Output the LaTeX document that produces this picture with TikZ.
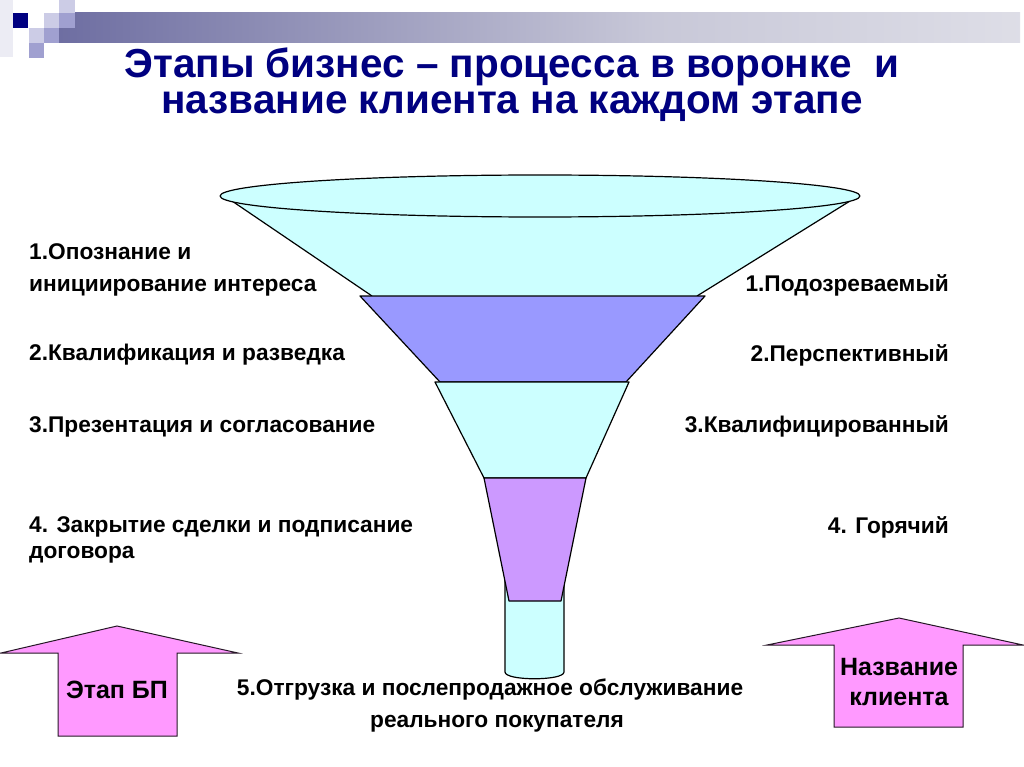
\documentclass[tikz,border=0pt]{standalone}
\usepackage{fontspec}
\setmainfont{Liberation Sans}
\lineskiplimit=-50pt
\definecolor{titleblue}{HTML}{000080}
\definecolor{cyanfill}{HTML}{CCFFFF}
\definecolor{bluefill}{HTML}{9999FF}
\definecolor{violetfill}{HTML}{CC99FF}
\definecolor{pinkfill}{HTML}{FF99FF}
\definecolor{bar0}{RGB}{20,20,120}
\definecolor{bar1}{RGB}{107,107,160}
\definecolor{bar2}{RGB}{200,200,216}
\definecolor{bar3}{RGB}{250,250,250}
\definecolor{sqdark}{HTML}{000080}
\definecolor{sqlight}{HTML}{CCCCE6}
\definecolor{sqmid}{HTML}{A0A0D0}
\definecolor{sqfaint}{HTML}{ECECF4}
\pgfdeclarehorizontalshading{barshade}{100bp}{color(0bp)=(bar0); color(24bp)=(bar1); color(56bp)=(bar2); color(100bp)=(bar3)}
\begin{document}
\begin{tikzpicture}[x=1pt,y=-1pt,
  lbl/.style={inner sep=0pt, font=\fontsize{22.7}{26}\selectfont\bfseries},
  arrlbl/.style={inner sep=0pt, font=\fontsize{25}{30}\selectfont\bfseries},
  ttl/.style={inner sep=0pt, text=titleblue, align=center, font=\fontsize{40.5}{36}\selectfont\bfseries},
  part/.style={draw=black, line width=1.2pt, line join=round},
  arrowbox/.style={fill=pinkfill, draw=black!85!pinkfill, line width=1pt, line join=miter}]
\useasboundingbox[fill=white] (0,0) rectangle (1024,767);
% header decoration
\shade[shading=barshade] (59,13) rectangle (1020,43);
\fill[sqfaint] (0,0) rectangle (13,57);
\fill[sqdark] (13,13) rectangle (28,28);
\fill[sqlight] (44,13) rectangle (59,28);
\fill[sqmid] (59,13) rectangle (75,28);
\fill[sqlight] (59,0) rectangle (75,13);
\fill[sqlight] (29,28) rectangle (44,43);
\fill[sqmid] (44,28) rectangle (59,43);
\fill[sqmid] (29,43) rectangle (44,58);
% title
\node[ttl, anchor=north] (title) at (512,48) {Этапы бизнес – процесса в воронке~~и\\название клиента на каждом этапе};
% funnel
\fill[cyanfill] (232,201) -- (372,296) -- (697,296) -- (850,201) -- cycle;
\draw[part] (232,201) -- (372,296);
\draw[part] (850,201) -- (697,296);
\draw[part, fill=cyanfill] (540,196) ellipse [x radius=320pt, y radius=21pt];
\draw[part, fill=bluefill] (360,296) -- (705,296) -- (626,382) -- (440,382) -- cycle;
\draw[part, fill=cyanfill] (435,382) -- (629,382) -- (586,478) -- (484,478) -- cycle;
\draw[part, fill=cyanfill] (505,570) -- (505,672) .. controls (505,681) and (564,681) .. (564,672) -- (564,570) -- cycle;
\draw[part, fill=violetfill] (484,478) -- (586,478) -- (561,601) -- (509,601) -- cycle;
% left labels
\node[lbl, anchor=base west] (l1a) at (29,259) {1.Опознание и};
\node[lbl, anchor=base west] (l1b) at (29,291) {инициирование интереса};
\node[lbl, anchor=base west] (l2) at (29,360) {2.Квалификация и разведка};
\node[lbl, anchor=base west] (l3) at (29,432) {3.Презентация и согласование};
\node[lbl, anchor=base west] (l4a) at (29,532) {4. Закрытие сделки и подписание};
\node[lbl, anchor=base west] (l4b) at (29,558) {договора};
% right labels
\node[lbl, anchor=base east] (r1) at (949,291) {1.Подозреваемый};
\node[lbl, anchor=base east] (r2) at (949,361) {2.Перспективный};
\node[lbl, anchor=base east] (r3) at (949,432) {3.Квалифицированный};
\node[lbl, anchor=base east] (r4) at (949,533) {4. Горячий};
% bottom
\node[lbl, anchor=base] (b1) at (490,695) {5.Отгрузка и послепродажное обслуживание};
\node[lbl, anchor=base] (b2) at (497,727) {реального покупателя};
% arrows
\draw[arrowbox] (117,626) -- (238,653) -- (177,653) -- (177,736) -- (58,736) -- (58,653) -- (1,653) -- cycle;
\node[arrlbl, anchor=base] (etap) at (117,698) {Этап БП};
\draw[arrowbox] (899,618) -- (1023,645) -- (963,645) -- (963,727) -- (834,727) -- (834,645) -- (767,645) -- cycle;
\node[arrlbl, anchor=base] (nazv1) at (899,675) {Название};
\node[arrlbl, anchor=base] (nazv2) at (899,705) {клиента};
\end{tikzpicture}
\end{document}
